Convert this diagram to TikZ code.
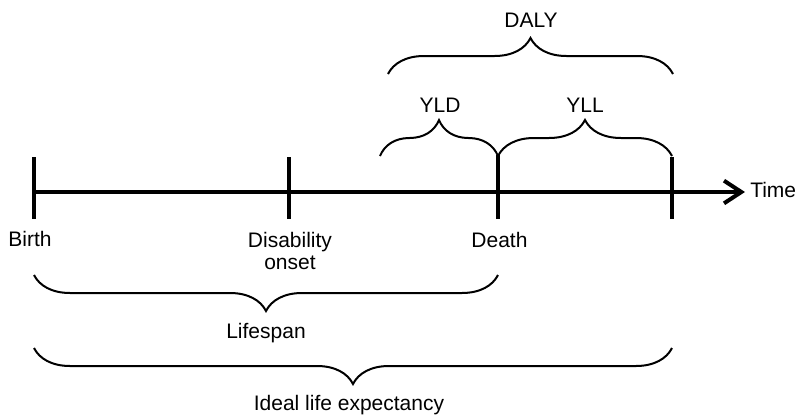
\documentclass[tikz,border=0pt]{standalone}
\usepackage{fontspec}
\setmainfont{Liberation Sans}
\usetikzlibrary{arrows.meta,decorations.pathreplacing}
\tikzset{
  lbl/.style={font=\fontsize{15.75}{16.5}\selectfont, inner sep=0pt, align=center, anchor=base},
  axis/.style={line width=3pt, -{Straight Barb[length=13pt,width=17pt,line width=3pt]}},
  tick/.style={line width=3pt},
  brc/.style={line width=1.5pt, decorate, decoration={brace, amplitude=27pt}},
}
\begin{document}
\begin{tikzpicture}[x=0.75pt,y=-0.75pt]
\useasboundingbox (0,0) rectangle (801,415);
% tick positions
\coordinate (b) at (34,192);
\coordinate (o) at (289,192);
\coordinate (d) at (498,192);
\coordinate (e) at (672,192);
\coordinate (end) at (745,192);
% timeline
\draw[axis] (b) -- (end);
\node[lbl, anchor=base west] (time) at (750,197) {Time};
% ticks
\draw[tick] (34,157) -- (34,219);
\draw[tick] (289,157) -- (289,219);
\draw[tick] (498,155) -- (498,219);
\draw[tick] (672,157) -- (672,219);
% labels under ticks
\node[lbl] (birth) at (30,246) {Birth};
\node[lbl] (onset) at (290,269) {Disability\\onset};
\node[lbl] (death) at (499.5,247) {Death};
% upper braces
\draw[brc] (380,156) -- (498,156);
\draw[brc] (498,156) -- (672,156);
\draw[brc] (388,74) -- (673,74);
\node[lbl] (yld) at (440,112) {YLD};
\node[lbl] (yll) at (585,112) {YLL};
\node[lbl] (daly) at (531,27) {DALY};
% lower braces
\draw[brc] (498,275) -- (34,275);
\draw[brc] (672,348) -- (34,348);
\node[lbl] (life) at (266,338) {Lifespan};
\node[lbl] (ideal) at (349,410) {Ideal life expectancy};
\end{tikzpicture}
\end{document}
